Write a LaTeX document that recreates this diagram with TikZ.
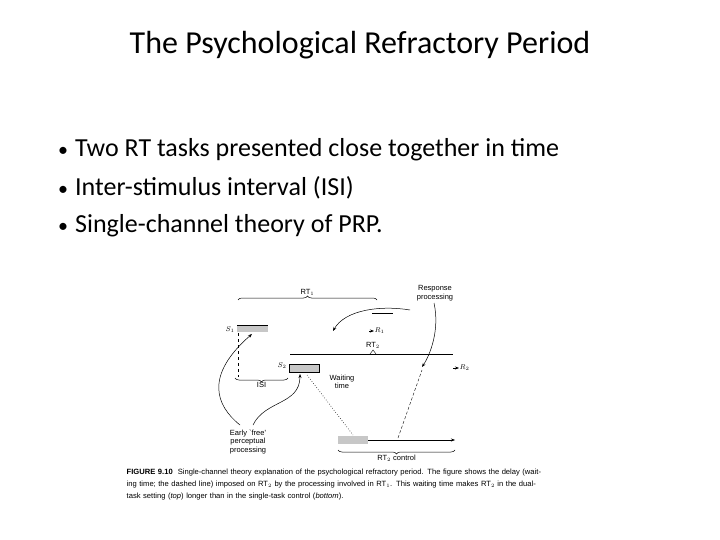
\documentclass[tikz,border=0pt]{standalone}
\usepackage{fontspec}
\setmainfont{Carlito}
\newfontfamily\figfont{Liberation Sans}
\usetikzlibrary{decorations.pathreplacing,arrows.meta}
\begin{document}
\begin{tikzpicture}[x=1pt,y=-1pt,
  fig/.style={font=\figfont\fontsize{7.5}{8.5}\selectfont,inner sep=0.5pt},
  bar/.style={fill=black!22,draw=none},
  brc/.style={decorate,decoration={brace,amplitude=4pt},line width=0.5pt},
  bl/.style={font=\fontsize{26}{30}\selectfont,anchor=west,inner sep=0},
  cur/.style={-{Stealth[length=4pt]},line width=0.5pt},
  tip/.style={-{Stealth[length=4pt]},line width=0.5pt}]
\useasboundingbox (0,0) rectangle (720,540);
\node (title) at (360,45) {\fontsize{32}{36}\selectfont The Psychological Refractory Period};
\node[bl] (b1) at (58,150) {{\fontsize{20}{20}\selectfont•}\hspace{7pt}Two RT tasks presented close together in time};
\node[bl] (b2) at (58,188) {{\fontsize{20}{20}\selectfont•}\hspace{7pt}Inter-stimulus interval (ISI)};
\node[bl] (b3) at (58,226) {{\fontsize{20}{20}\selectfont•}\hspace{7pt}Single-channel theory of PRP.};
% figure
\draw[brc] (238,300) -- node[fig,above=4pt] (rt1) {RT$_1$} (377,300);
\node[fig,align=center] (resp) at (435,293) {Response\\processing};
\node[fig] (s1) at (230,330) {$S_1$};
\fill[bar] (237,325) rectangle (268,332);
\draw[line width=0.6pt] (237,325) -- (268,325);
\draw[dashed,line width=0.5pt] (238,333) -- (238,377);
\draw[brc] (288,378) -- node[fig,below=4pt] (isi) {ISI} (235,378);
\node[fig] (s2) at (282,366) {$S_2$};
\fill[bar] (289,364) rectangle (319,372);
\draw[line width=0.6pt] (289,364) rectangle (319,372);
\draw[line width=0.5pt] (290,354) -- (453,354);
\draw[line width=0.4pt] (370,354) -- (373,350) -- (376,354);
\node[fig] (rt2) at (373,345) {RT$_2$};
\node[fig,anchor=west] (r1) at (374,331) {$R_1$};
\draw[tip] (369,331) -- (r1.west);
\node[fig,anchor=west] (r2) at (459,368) {$R_2$};
\draw[tip] (453,368) -- (r2.west);
\draw[line width=0.5pt] (372,313) -- (393,313);
\node[fig,align=center] (wait) at (342,382) {Waiting\\time};
\draw[cur] (410,310) .. controls (380,305) and (345,310) .. (333,331);
\draw[cur] (434,303) .. controls (440,330) and (430,355) .. (422,367);
\draw[dotted,line width=0.6pt] (307,375) -- (353,435);
\fill[bar] (338,436) rectangle (368,444);
\draw[-{Stealth[length=4pt]},line width=0.5pt] (368,440) -- (455,440);
\draw[densely dashed,line width=0.4pt] (398,438) -- (422,370);
\draw[brc] (455,450) -- node[fig,below=4pt] (rtc) {RT$_2$ control} (338,450);
\node[fig,align=center] (early) at (248,442) {Early `free'\\perceptual\\processing};
\draw[cur] (240,425) .. controls (215,405) and (205,375) .. (252,334);
\draw[cur] (253,425) .. controls (265,400) and (300,405) .. (300,374);
\node[fig,anchor=north west,align=left,text width=418pt,font=\figfont\fontsize{7.6}{12}\selectfont] (cap) at (126,468)
 {\textbf{FIGURE 9.10}\ \ Single-channel theory explanation of the psychological refractory period. The figure shows the delay (waiting time; the dashed line) imposed on RT$_2$ by the processing involved in RT$_1$. This waiting time makes RT$_2$ in the dual-task setting (\emph{top}) longer than in the single-task control (\emph{bottom}).};
\end{tikzpicture}
\end{document}
